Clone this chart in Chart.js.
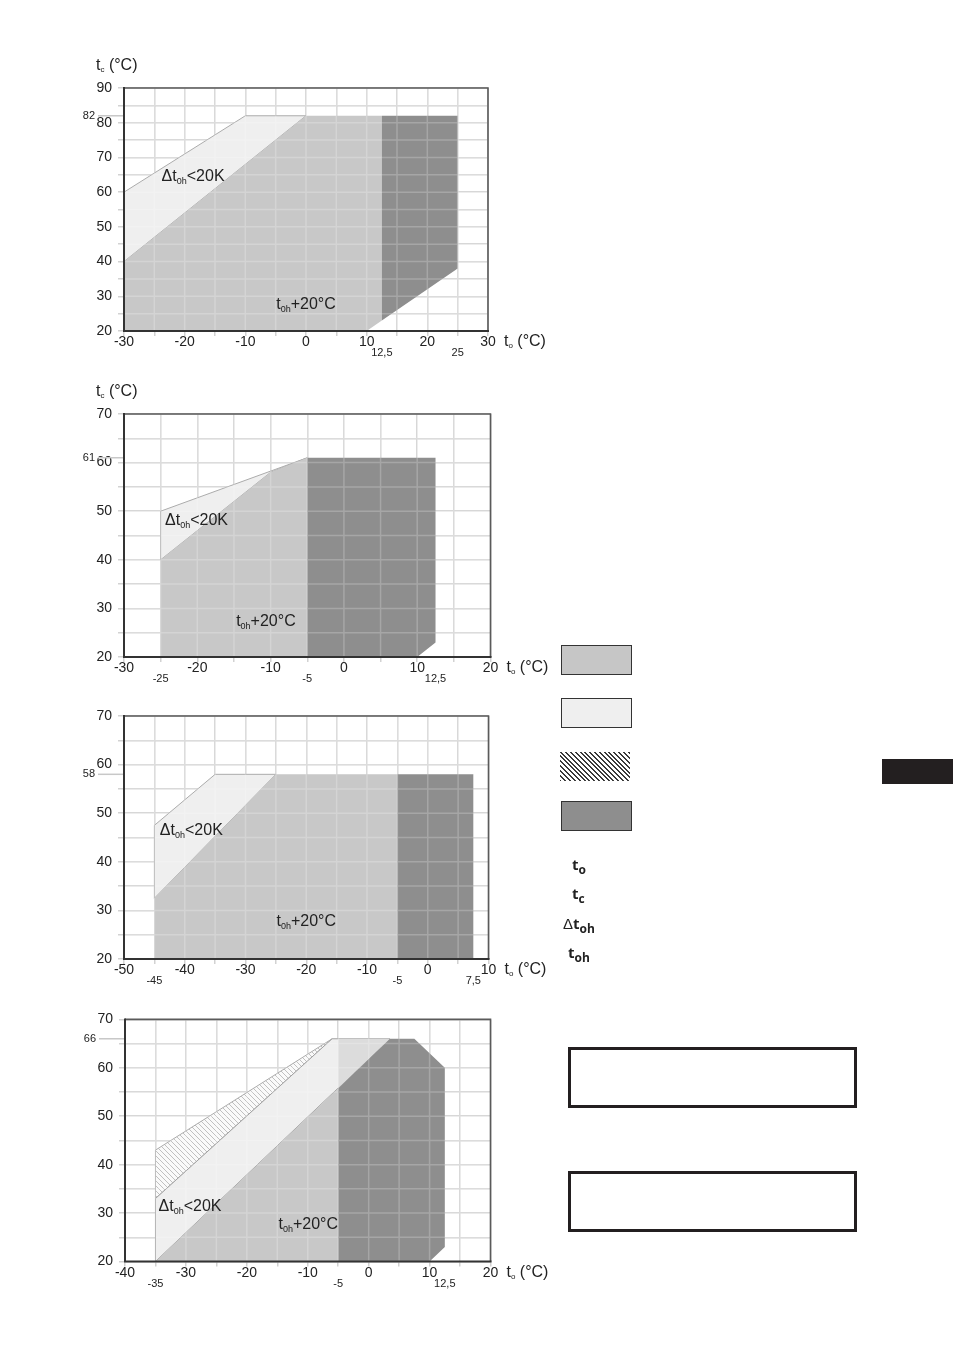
<!DOCTYPE html>
<html>
<head>
<meta charset="utf-8">
<script src="https://cdn.jsdelivr.net/npm/chart.js@4/dist/chart.umd.min.js"></script>
<style>
  html, body { margin:0; padding:0; background:#fff; }
  body { width:953px; height:1352px; position:relative; overflow:hidden; font-family:'Liberation Sans', Arial, sans-serif; }
  canvas.ch { position:absolute; }
  .lg { position:absolute; left:561px; width:69px; height:28px; border:1px solid #333; }
  .sym { position:absolute; font-family:'Open Sans','DejaVu Sans',sans-serif; font-weight:bold; font-size:15px; color:#222; line-height:1; }
  .sym sub { font-size:12px; vertical-align:-4px; line-height:0; }
  .box { position:absolute; left:568px; width:283px; height:55px; border:3px solid #231f20; }
</style>
</head>
<body>
<canvas class="ch" id="c1" width="540" height="340" style="left:40px;top:40px;width:540px;height:340px"></canvas>
<canvas class="ch" id="c2" width="540" height="320" style="left:40px;top:375px;width:540px;height:320px"></canvas>
<canvas class="ch" id="c3" width="540" height="300" style="left:40px;top:700px;width:540px;height:300px"></canvas>
<canvas class="ch" id="c4" width="540" height="300" style="left:40px;top:1005px;width:540px;height:300px"></canvas>

<div class="lg" style="top:645px;background:#c6c6c6"></div>
<div class="lg" style="top:698px;background:#efefef"></div>
<div style="position:absolute;left:560px;top:752px;width:70px;height:29px;background:repeating-linear-gradient(45deg,#3a3a3a 0 1.4px,#ffffff 1.4px 3.4px)"></div>
<div class="lg" style="top:801px;background:#8e8e8e"></div>

<div class="sym" style="left:572px;top:857px">t<sub>o</sub></div>
<div class="sym" style="left:572px;top:886px">t<sub>c</sub></div>
<div class="sym" style="left:563px;top:916px"><span style="font-weight:normal;font-family:'Liberation Sans',Arial,sans-serif;font-size:15px">&#916;</span>t<sub>oh</sub></div>
<div class="sym" style="left:568px;top:945px">t<sub>oh</sub></div>

<div style="position:absolute;left:882px;top:759px;width:71px;height:25px;background:#231f20"></div>
<div class="box" style="top:1047px"></div>
<div class="box" style="top:1171px"></div>

<script>
// ---------- Chart 1 data ----------
const c1_light_x = [-30, -30, -10, 0, -30];
const c1_light_y = [40, 60, 82, 82, 40];
const c1_mid_x   = [-30, -30, 0, 12.5, 12.5, 10, -30];
const c1_mid_y   = [20, 40, 82, 82, 23, 20, 20];
const c1_dark_x  = [12.5, 12.5, 25, 25, 12.5];
const c1_dark_y  = [23, 82, 82, 38, 23];
const c1_xrange = [-30, 30];
const c1_yrange = [20, 90];
const c1_extraX = [12.5, 25];
const c1_extraXLabels = ['12,5', '25'];
const c1_extraY = 82;

// ---------- Chart 2 data ----------
const c2_light_x = [-25, -25, -5, -10, -25];
const c2_light_y = [40, 50, 61, 58, 40];
const c2_mid_x   = [-25, -25, -10, -5, -5, -25];
const c2_mid_y   = [20, 40, 58, 61, 20, 20];
const c2_dark_x  = [-5, -5, 12.5, 12.5, 10, -5];
const c2_dark_y  = [20, 61, 61, 23, 20, 20];
const c2_xrange = [-30, 20];
const c2_yrange = [20, 70];
const c2_extraX = [-25, -5, 12.5];
const c2_extraXLabels = ['-25', '-5', '12,5'];
const c2_extraY = 61;

// ---------- Chart 3 data ----------
const c3_light_x = [-45, -45, -35, -25, -45];
const c3_light_y = [32.5, 47.5, 58, 58, 32.5];
const c3_mid_x   = [-45, -45, -25, -5, -5, -45];
const c3_mid_y   = [20, 32.5, 58, 58, 20, 20];
const c3_dark_x  = [-5, -5, 7.5, 7.5, -5];
const c3_dark_y  = [20, 58, 58, 20, 20];
const c3_xrange = [-50, 10];
const c3_yrange = [20, 70];
const c3_extraX = [-45, -5, 7.5];
const c3_extraXLabels = ['-45', '-5', '7,5'];
const c3_extraY = 58;

// ---------- Chart 4 data ----------
const c4_hatch_x = [-35, -35, -6, -35];
const c4_hatch_y = [33, 43, 66, 33];
const c4_light_x = [-35, -35, -6, 3.5, -35];
const c4_light_y = [20, 33, 66, 66, 20];
const c4_lmid_x  = [-5, -5, 3.5, -5];
const c4_lmid_y  = [55.8, 66, 66, 55.8];
const c4_mid_x   = [-35, -5, -5, -35];
const c4_mid_y   = [20, 55.8, 20, 20];
const c4_dark_x  = [-5, -5, 3.5, 7.5, 12.5, 12.5, 10, -5];
const c4_dark_y  = [20, 55.8, 66, 66, 60, 23, 20, 20];
const c4_xrange = [-40, 20];
const c4_yrange = [20, 70];
const c4_extraX = [-35, -5, 12.5];
const c4_extraXLabels = ['-35', '-5', '12,5'];
const c4_extraY = 66;

// label anchor values (data coords)
const c1_labels = [[-23.8, 64.5, 'dt'], [-4.9, 27.5, 'toh']];
const c2_labels = [[-24.4, 48, 'dt'], [-14.7, 27.3, 'toh']];
const c3_labels = [[-44.1, 46.5, 'dt'], [-24.9, 27.7, 'toh']];
const c4_labels = [[-34.5, 31.3, 'dt'], [-14.8, 27.6, 'toh']];

const FONT = "'Liberation Sans', Arial, sans-serif";
Chart.defaults.font.family = FONT;

const zip = (xs, ys) => xs.map((x, i) => ({x, y: ys[i]}));

function hatchPattern() {
  const c = document.createElement('canvas');
  c.width = 5; c.height = 5;
  const g = c.getContext('2d');
  g.fillStyle = '#fafafa'; g.fillRect(0, 0, 5, 5);
  g.strokeStyle = '#c0c0c0'; g.lineWidth = 1;
  g.beginPath();
  g.moveTo(-1, -1); g.lineTo(6, 6);
  g.moveTo(-1, 4); g.lineTo(1, 6);
  g.moveTo(4, -1); g.lineTo(6, 1);
  g.stroke();
  return g.createPattern(c, 'repeat');
}

function poly(xs, ys, color, order, border) {
  return {
    data: zip(xs, ys), showLine: true, fill: 'shape',
    backgroundColor: color, borderColor: border || color,
    borderWidth: border ? 1 : 0, pointRadius: 0, order: order, tension: 0
  };
}

function drawRich(ctx, parts, x, y) {
  let cx = x;
  ctx.textBaseline = 'middle';
  ctx.textAlign = 'left';
  ctx.fillStyle = '#222';
  for (const p of parts) {
    ctx.font = p.s + 'px ' + FONT;
    ctx.fillText(p.t, cx, y + (p.dy || 0));
    cx += ctx.measureText(p.t).width;
  }
}

const DT = [{t: 'Δt', s: 16}, {t: '0h', s: 9, dy: 5}, {t: '<20K', s: 16}];
const TOH = [{t: 't', s: 16}, {t: '0h', s: 9, dy: 5}, {t: '+20°C', s: 16}];

const overlay = {
  id: 'overlay',
  afterDatasetsDraw(chart, args, o) {
    const {ctx, chartArea: a, scales: {x, y}} = chart;
    ctx.save();
    ctx.beginPath(); ctx.rect(a.left, a.top, a.right - a.left, a.bottom - a.top); ctx.clip();
    ctx.strokeStyle = 'rgba(255,255,255,0.22)'; ctx.lineWidth = 1.5;
    ctx.beginPath();
    x.ticks.forEach(t => { const p = x.getPixelForValue(t.value); ctx.moveTo(p, a.top); ctx.lineTo(p, a.bottom); });
    y.ticks.forEach(t => { const p = y.getPixelForValue(t.value); ctx.moveTo(a.left, p); ctx.lineTo(a.right, p); });
    ctx.stroke();
    ctx.restore();

    ctx.save();
    // frame
    ctx.strokeStyle = '#5a5a5a'; ctx.lineWidth = 1.6;
    ctx.beginPath(); ctx.moveTo(a.left, a.top); ctx.lineTo(a.right, a.top); ctx.lineTo(a.right, a.bottom); ctx.stroke();
    ctx.strokeStyle = '#333'; ctx.lineWidth = 2;
    ctx.beginPath(); ctx.moveTo(a.left, a.top - 1); ctx.lineTo(a.left, a.bottom); ctx.lineTo(a.right + 1, a.bottom); ctx.stroke();

    // extra y mark
    const py = y.getPixelForValue(o.extraY);
    ctx.strokeStyle = '#c8c8c8'; ctx.lineWidth = 1.5;
    ctx.beginPath(); ctx.moveTo(a.left - 26, py); ctx.lineTo(a.left - 1, py); ctx.stroke();
    ctx.fillStyle = '#222'; ctx.font = '11px ' + FONT; ctx.textAlign = 'right'; ctx.textBaseline = 'middle';
    ctx.fillText(String(o.extraY), a.left - 29, py);

    // extra x labels
    ctx.textAlign = 'center';
    o.extraX.forEach((v, i) => ctx.fillText(o.extraXLabels[i], x.getPixelForValue(v), a.bottom + 22));

    // region labels
    o.labels.forEach(l => drawRich(ctx, l[2] === 'dt' ? DT : TOH, x.getPixelForValue(l[0]), y.getPixelForValue(l[1])));

    // axis titles
    drawRich(ctx, [{t: 't', s: 16}, {t: 'o', s: 8, dy: 4}, {t: ' (°C)', s: 16}], a.right + 16, a.bottom + 11);
    if (o.yTitle) drawRich(ctx, [{t: 't', s: 16}, {t: 'c', s: 8, dy: 4}, {t: ' (°C)', s: 16}], a.left - 28, a.top - 22);
    ctx.restore();
  }
};

function makeChart(id, area, cv, xr, yr, datasets, opts) {
  const yW = area.l - cv.x, padT = area.t - cv.y, padR = cv.x + cv.w - area.r, xH = cv.y + cv.h - area.b;
  return new Chart(document.getElementById(id), {
    type: 'scatter',
    data: {datasets},
    plugins: [overlay],
    options: {
      responsive: false, animation: false, devicePixelRatio: 1,
      layout: {padding: {left: 0, top: padT, right: padR, bottom: 0}},
      plugins: {legend: {display: false}, tooltip: {enabled: false}, overlay: opts},
      scales: {
        x: {
          type: 'linear', min: xr[0], max: xr[1],
          afterFit: s => { s.height = xH; },
          border: {display: false},
          grid: {color: '#d2d2d2', lineWidth: 1.5, tickLength: 5},
          ticks: {stepSize: 5, autoSkip: false, maxRotation: 0, padding: -2, color: '#222', font: {size: 14},
                  callback: v => (v % 10 === 0 ? String(v) : '')}
        },
        y: {
          type: 'linear', min: yr[0], max: yr[1],
          afterFit: s => { s.width = yW; },
          border: {display: false},
          grid: {color: '#d2d2d2', lineWidth: 1.5, tickLength: 6},
          ticks: {stepSize: 5, autoSkip: false, padding: 6, color: '#222', font: {size: 14},
                  callback: v => (v % 10 === 0 ? String(v) : '')}
        }
      }
    }
  });
}

const LIGHT = '#efefef', MID = '#c8c8c8', DARK = '#8e8e8e', EDGE = '#ababab';

makeChart('c1', {l: 124, r: 488, t: 88, b: 331}, {x: 40, y: 40, w: 540, h: 340}, c1_xrange, c1_yrange, [
  poly(c1_light_x, c1_light_y, LIGHT, 3, EDGE),
  poly(c1_mid_x, c1_mid_y, MID, 2),
  poly(c1_dark_x, c1_dark_y, DARK, 1)
], {extraY: c1_extraY, extraX: c1_extraX, extraXLabels: c1_extraXLabels, labels: c1_labels, yTitle: true});

makeChart('c2', {l: 124, r: 490.5, t: 414, b: 657}, {x: 40, y: 375, w: 540, h: 320}, c2_xrange, c2_yrange, [
  poly(c2_light_x, c2_light_y, LIGHT, 3, EDGE),
  poly(c2_mid_x, c2_mid_y, MID, 2),
  poly(c2_dark_x, c2_dark_y, DARK, 1)
], {extraY: c2_extraY, extraX: c2_extraX, extraXLabels: c2_extraXLabels, labels: c2_labels, yTitle: true});

makeChart('c3', {l: 124, r: 488.5, t: 716, b: 959}, {x: 40, y: 700, w: 540, h: 300}, c3_xrange, c3_yrange, [
  poly(c3_light_x, c3_light_y, LIGHT, 3, EDGE),
  poly(c3_mid_x, c3_mid_y, MID, 2),
  poly(c3_dark_x, c3_dark_y, DARK, 1)
], {extraY: c3_extraY, extraX: c3_extraX, extraXLabels: c3_extraXLabels, labels: c3_labels, yTitle: false});

makeChart('c4', {l: 125, r: 490.5, t: 1019, b: 1261.5}, {x: 40, y: 1005, w: 540, h: 300}, c4_xrange, c4_yrange, [
  poly(c4_hatch_x, c4_hatch_y, hatchPattern(), 6, EDGE),
  poly(c4_light_x, c4_light_y, LIGHT, 5, '#a0a0a0'),
  poly(c4_lmid_x, c4_lmid_y, '#dcdcdc', 4),
  poly(c4_mid_x, c4_mid_y, MID, 3),
  poly(c4_dark_x, c4_dark_y, DARK, 2)
], {extraY: c4_extraY, extraX: c4_extraX, extraXLabels: c4_extraXLabels, labels: c4_labels, yTitle: false});
</script>
</body>
</html>
